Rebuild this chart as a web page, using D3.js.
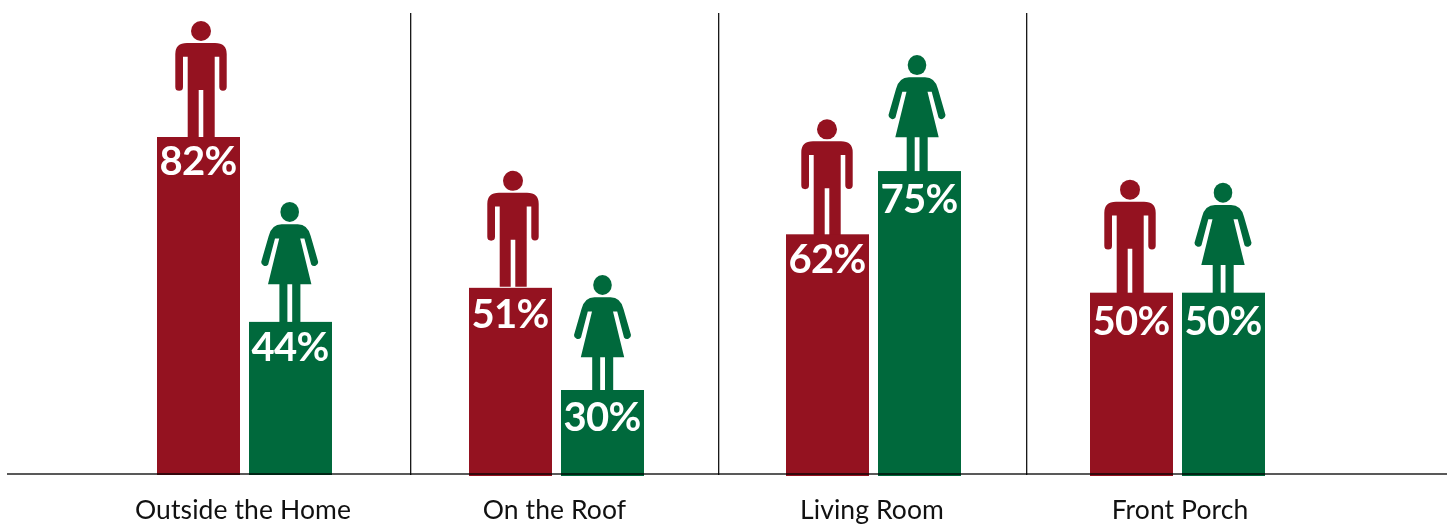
<!DOCTYPE html>
<html><head><meta charset="utf-8">
<style>html,body{margin:0;padding:0;background:#fff;overflow:hidden}svg{display:block}text{font-family:Lato,"Open Sans",sans-serif}</style>
<script src="https://cdnjs.cloudflare.com/ajax/libs/d3/7.8.5/d3.min.js"></script>
</head><body><svg id="c" width="1452" height="525"></svg>
<script>
const categories = ["Outside the Home","On the Roof","Living Room","Front Porch"];
const series = ["Men","Women"];
const menValues = [82,51,62,50];
const womenValues = [44,30,75,50];

// layout (independent of data)
const W=1452,H=525,base=474;
const barW=83, barGap=9;
const groupNudge=[-12.5,-8.5,0.5,-3.5], labelNudge=[-14,-10.5,-1,-1];
const barBottom=[475,476,476,476];
const iconNudgeX={Men:[2.5,2.5,-0.5,-1.5],Women:[-0.8,0,-2.5,-0.5]};
const iconNudgeY={Men:[0,-1,1,3],Women:[0,5,4,10]};
const textNudgeY={Men:[0,2,1,4],Women:[1,3,4,4]};
const colors={Men:"#941220",Women:"#00693C"};

const svg=d3.select("#c");
const x=d3.scaleBand().domain(categories).range([103,1335]);
// the reference's bars use a truncated axis
const y=d3.scaleLinear().domain([30,82]).range([390,137]);

const manPath="M-25.7,-47.5 L-25.7,-83 Q-25.7,-94 -14,-94 L14,-94 Q25.7,-94 25.7,-83 L25.7,-50 A3.7,3.7 0 0 1 18.3,-50 L18.3,-80.3 L13.7,-80.3 L13.7,0 L2.3,0 L2.3,-47 L-2.3,-47 L-2.3,0 L-13.3,0 L-13.3,-80.3 L-18,-80.3 L-18,-50 A3.7,3.7 0 0 1 -25.7,-50 Z";
const womanPath="M-10.3,0 L-10.3,-37.7 L-21.7,-37.7 L-10.5,-83.4 L-14.7,-83.4 L-21.5,-57.5 A3.9,3.9 0 0 1 -28.5,-60 L-21,-86 Q-18,-97.7 -8,-97.7 L8,-97.7 Q18,-97.7 21,-86 L28.5,-60 A3.9,3.9 0 0 1 21.5,-57.5 L14.7,-83.4 L10.5,-83.4 L21.7,-37.7 L10.7,-37.7 L10.7,0 L2.5,0 L2.5,-37.7 L-2.3,-37.7 L-2.3,0 Z";

const rows=[];
categories.forEach((c,i)=>{
  rows.push({c,i,s:"Men",v:menValues[i],off:-barGap/2-barW});
  rows.push({c,i,s:"Women",v:womenValues[i],off:barGap/2});
});
const left=d=>x(d.c)+x.bandwidth()/2+groupNudge[d.i]+d.off;
const g=svg.append("g");

const icons=g.selectAll("g.icon").data(rows).join("g").attr("class","icon")
  .attr("transform",d=>`translate(${left(d)+barW/2+iconNudgeX[d.s][d.i]},${y(d.v)+iconNudgeY[d.s][d.i]})`)
  .attr("fill",d=>colors[d.s]);
icons.append("path").attr("d",d=>d.s==="Men"?manPath:womanPath);
icons.append("ellipse").attr("cx",0).attr("cy",d=>d.s==="Men"?-106:-110)
  .attr("rx",d=>d.s==="Men"?10:9.3).attr("ry",10);

g.selectAll("rect").data(rows).join("rect")
  .attr("x",left).attr("y",d=>y(d.v)).attr("width",barW)
  .attr("height",d=>barBottom[d.i]-y(d.v))
  .attr("fill",d=>colors[d.s]);

// separators
svg.append("g").selectAll("line").data(categories.slice(1)).join("line")
  .attr("x1",d=>x(d)-0.3).attr("x2",d=>x(d)-0.3).attr("y1",13).attr("y2",475)
  .attr("stroke","#000").attr("stroke-width",1.2);
// baseline, showing through the bars
svg.append("line").attr("x1",7).attr("x2",1447).attr("y1",base).attr("y2",base)
  .attr("stroke","#595959").attr("stroke-width",1.8).style("mix-blend-mode","multiply");

g.selectAll("text.val").data(rows).join("text").attr("class","val")
  .attr("x",d=>left(d)+barW/2-0.5)
  .attr("y",d=>y(d.v)+38+textNudgeY[d.s][d.i]).attr("text-anchor","middle")
  .attr("fill","#fff").attr("font-weight",700).attr("font-size",40).attr("letter-spacing",-0.8)
  .text(d=>d.v+"%");

svg.append("g").selectAll("text").data(categories).join("text")
  .attr("x",(d,i)=>x(d)+x.bandwidth()/2+labelNudge[i]).attr("y",519)
  .attr("text-anchor","middle").attr("font-size",26.5).attr("letter-spacing",0.1).attr("fill","#111").text(d=>d);
</script></body></html>
